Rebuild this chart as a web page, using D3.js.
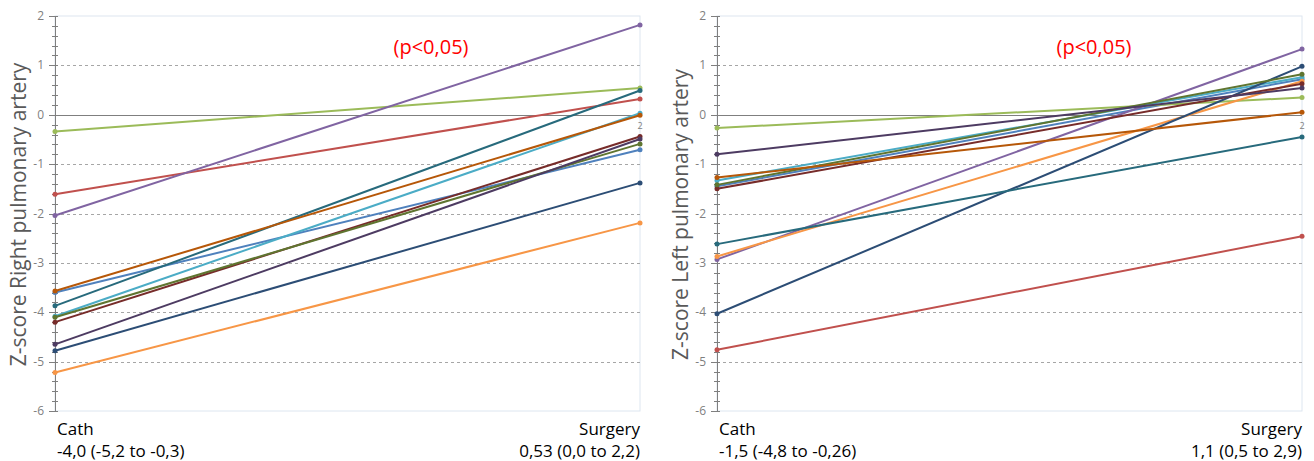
<!DOCTYPE html>
<html>
<head>
<meta charset="utf-8">
<script src="https://cdn.jsdelivr.net/npm/d3@7"></script>
<style>
    body { margin: 0; background: #fff; }
    svg text { font-family: "Open Sans", "Liberation Sans", sans-serif; }
</style>
</head>
<body>
<div id="chart"></div>
<script>
const categories = ['Cath', 'Surgery'];
const seriesColors = ['#4F81BD', '#C0504D', '#9BBB59', '#8064A2', '#4BACC6', '#F79646',
    '#2C4D75', '#772C2A', '#5F7530', '#4D3B62', '#276A7C', '#B65708'];

// right pulmonary artery z-scores
const rightCath = [-3.6, -1.61, -0.34, -2.04, -4.08, -5.22, -4.78, -4.2, -4.1, -4.65, -3.87, -3.57];
const rightSurgery = [-0.71, 0.32, 0.54, 1.82, 0.03, -2.19, -1.38, -0.44, -0.59, -0.49, 0.49, -0.01];

// left pulmonary artery z-scores
const leftCath = [-1.45, -4.76, -0.27, -2.93, -1.33, -2.87, -4.03, -1.5, -1.42, -0.8, -2.62, -1.27];
const leftSurgery = [0.72, -2.46, 0.35, 1.33, 0.76, 0.68, 0.98, 0.63, 0.82, 0.54, -0.45, 0.05];

const yTicks = [2, 1, 0, -1, -2, -3, -4, -5, -6];

const panels = [
    {x0: 55, x1: 640, title: 'Z-score Right pulmonary artery', cath: rightCath, surgery: rightSurgery,
        sub: ['-4,0 (-5,2 to -0,3)', '0,53 (0,0 to 2,2)'], note: '(p<0,05)', noteX: 431},
    {x0: 717, x1: 1302, title: 'Z-score Left pulmonary artery', cath: leftCath, surgery: leftSurgery,
        sub: ['-1,5 (-4,8 to -0,26)', '1,1 (0,5 to 2,9)'], note: '(p<0,05)', noteX: 1094}
];

const width = 1314, height = 461;
const plotTop = 16, plotBottom = 411;

const svg = d3.select('#chart').append('svg')
    .attr('width', width)
    .attr('height', height);

panels.forEach(p => {
    const g = svg.append('g');
    const xScale = d3.scalePoint().domain(categories).range([p.x0, p.x1]);
    const yScale = d3.scaleLinear().domain([-6, 2]).range([plotBottom, plotTop]);

    // plot area border (light)
    g.append('rect')
        .attr('x', p.x0).attr('y', plotTop)
        .attr('width', p.x1 - p.x0).attr('height', plotBottom - plotTop)
        .attr('fill', 'none').attr('stroke', '#dde6f0').attr('stroke-width', 1);

    // gridlines
    g.selectAll('.grid')
        .data(yTicks.filter(t => t !== 0 && t !== 2 && t !== -6))
        .enter().append('line')
        .attr('x1', p.x0).attr('x2', p.x1)
        .attr('y1', d => Math.round(yScale(d)) + 0.5)
        .attr('y2', d => Math.round(yScale(d)) + 0.5)
        .attr('stroke', '#a6a6a6')
        .attr('stroke-dasharray', '3,3');

    g.append('line')
        .attr('x1', p.x0).attr('x2', p.x1)
        .attr('y1', Math.round(yScale(0)) + 0.5).attr('y2', Math.round(yScale(0)) + 0.5)
        .attr('stroke', '#7f7f7f').attr('stroke-width', 1);

    // y axis
    const minor = d3.range(-6, 2.001, 0.2).map(v => +v.toFixed(1));
    g.append('line')
        .attr('x1', p.x0 + 0.5).attr('x2', p.x0 + 0.5)
        .attr('y1', plotTop).attr('y2', plotBottom)
        .attr('stroke', '#7f7f7f');
    g.selectAll('.minor')
        .data(minor)
        .enter().append('line')
        .attr('x1', d => Number.isInteger(d) ? p.x0 - 6 : p.x0 - 3)
        .attr('x2', p.x0 + 3)
        .attr('y1', d => Math.round(yScale(d)) + 0.5)
        .attr('y2', d => Math.round(yScale(d)) + 0.5)
        .attr('stroke', '#7f7f7f');
    g.selectAll('.ylab')
        .data(yTicks)
        .enter().append('text')
        .attr('x', p.x0 - 11)
        .attr('y', d => yScale(d) + 4)
        .attr('text-anchor', 'end')
        .attr('font-size', 12)
        .attr('fill', '#7f7f7f')
        .text(d => d);

    g.append('text')
        .attr('transform', `translate(${p.x0 - 29},${(plotTop + plotBottom) / 2 + 1}) rotate(-90)`)
        .attr('text-anchor', 'middle')
        .attr('font-size', 21)
        .attr('fill', '#595959')
        .text(p.title);

    // lines
    const line = d3.line().x(d => xScale(d.c)).y(d => yScale(d.v));
    seriesColors.forEach((col, i) => {
        const pts = [{c: categories[0], v: p.cath[i]}, {c: categories[1], v: p.surgery[i]}];
        g.append('path')
            .datum(pts)
            .attr('fill', 'none')
            .attr('stroke', col)
            .attr('stroke-width', 2)
            .attr('d', line);
        g.selectAll(null)
            .data(pts)
            .enter().append('circle')
            .attr('cx', d => xScale(d.c))
            .attr('cy', d => yScale(d.v))
            .attr('r', 2.5)
            .attr('fill', col);
    });

    g.append('text')
        .attr('x', p.x1).attr('y', yScale(0) + 14)
        .attr('text-anchor', 'middle')
        .attr('font-size', 9)
        .attr('fill', '#808080')
        .text('2');

    // category labels
    g.append('text').attr('x', p.x0 + 2).attr('y', 435)
        .attr('font-size', 17).attr('fill', '#000').text(categories[0]);
    g.append('text').attr('x', p.x0 + 2).attr('y', 457)
        .attr('font-size', 17).attr('fill', '#000').text(p.sub[0]);
    g.append('text').attr('x', p.x1).attr('y', 435).attr('text-anchor', 'end')
        .attr('font-size', 17).attr('fill', '#000').text(categories[1]);
    g.append('text').attr('x', p.x1).attr('y', 457).attr('text-anchor', 'end')
        .attr('font-size', 17).attr('fill', '#000').text(p.sub[1]);

    g.append('text')
        .attr('x', p.noteX).attr('y', 54)
        .attr('text-anchor', 'middle')
        .attr('font-size', 20)
        .attr('fill', '#ff0000')
        .text(p.note);
});
</script>
</body>
</html>
